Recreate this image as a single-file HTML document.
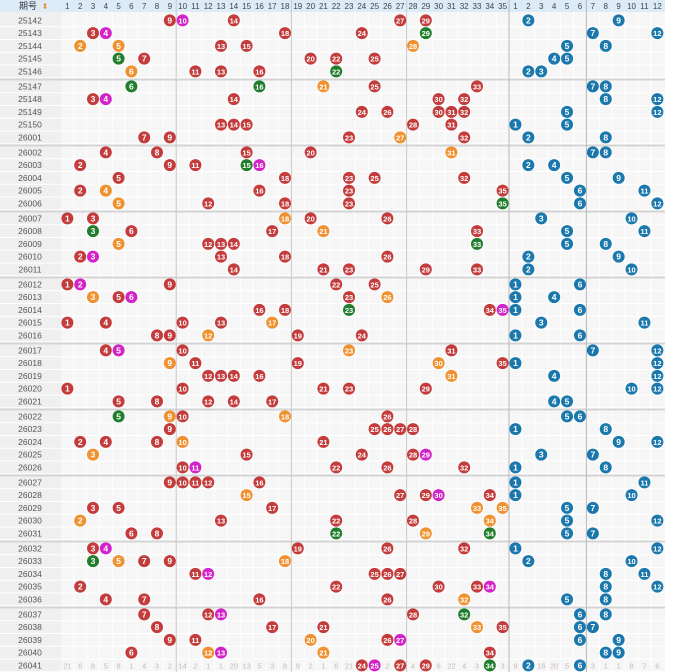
<!DOCTYPE html>
<html><head><meta charset="utf-8"><style>
html,body{margin:0;padding:0;background:#fff;}
svg{display:block;font-family:"Liberation Sans","Noto Sans CJK SC",sans-serif;}
</style></head><body>
<svg id="c" width="682" height="672" viewBox="0 0 682 672"></svg>
<script>
const periods=["25142","25143","25144","25145","25146","25147","25148","25149","25150","26001","26002","26003","26004","26005","26006","26007","26008","26009","26010","26011","26012","26013","26014","26015","26016","26017","26018","26019","26020","26021","26022","26023","26024","26025","26026","26027","26028","26029","26030","26031","26032","26033","26034","26035","26036","26037","26038","26039","26040","26041"];
// front balls: number + color code (r red, o orange, g green, m magenta)
const frontBalls=[
"9r 10m 14r 27r 29r","3r 4m 18r 24r 29g","2o 5o 13r 15r 28o","5g 7r 20r 22r 25r","6o 11r 13r 16r 22g",
"6g 16g 21o 25r 33r","3r 4m 14r 30r 32r","24r 26r 30r 31r 32r","13r 14r 15r 28r 31r","7r 9r 23r 27o 32r",
"4r 8r 15r 20r 31o","2r 9r 11r 15g 16m","5r 18r 23r 25r 32r","2r 4o 16r 23r 35r","5o 12r 18r 23r 35g",
"1r 3r 18o 20r 26r","3g 6r 17r 21o 33r","5o 12r 13r 14r 33g","2r 3m 13r 18r 26r","14r 21r 23r 29r 33r",
"1r 2m 9r 22r 25r","3o 5r 6m 23r 26o","16r 18r 23g 34r 35m","1r 4r 10r 13r 17o","8r 9r 12o 19r 24r",
"4r 5m 10r 23o 31r","9o 11r 19r 30o 35r","12r 13r 14r 16r 31o","1r 10r 21r 23r 29r","5r 8r 12r 14r 17r",
"5g 9o 10r 18o 26r","9r 25r 26r 27r 28r","2r 4r 8r 10o 21r","3o 15r 24r 28r 29m","10r 11m 22r 26r 32r",
"9r 10r 11r 12r 16r","15o 27r 29r 30m 34r","3r 5r 17r 33o 35o","2o 13r 22r 28r 34o","6r 8r 22g 29o 34g",
"3r 4m 19r 26r 32r","3g 5o 7r 9r 18o","11r 12m 25r 26r 27r","2r 22r 30r 33r 34m","4r 7r 16r 26r 32o",
"7r 12r 13m 28r 32g","8r 17r 21r 33o 35r","9r 11r 20o 26r 27m","6r 12o 13m 21o 34r","24r 25m 27r 29r 34g"];
const backBalls=[[2,9],[7,12],[5,8],[4,5],[2,3],[7,8],[8,12],[5,12],[1,5],[2,8],[7,8],[2,4],[5,9],[6,11],[6,12],[3,10],[5,11],[5,8],[2,9],[2,10],[1,6],[1,4],[1,6],[3,11],[1,6],[7,12],[1,12],[4,12],[10,12],[4,5],[5,6],[1,8],[9,12],[3,7],[1,8],[1,11],[1,10],[5,7],[5,12],[5,7],[1,12],[2,10],[8,11],[8,12],[5,8],[6,8],[6,7],[6,9],[8,9],[2,6]];
const lastMiss=[21,6,8,5,8,1,4,3,2,14,2,1,1,20,13,5,3,8,9,2,1,6,21,null,null,2,null,4,null,6,22,4,3,null,3];
const lastBackMiss=[9,null,16,20,5,null,3,1,1,8,7,6];

const NS="http://www.w3.org/2000/svg";
const svg=document.getElementById('c');
const COLORS={r:"#c33b3b",o:"#f0912f",g:"#1f7d2b",m:"#d323c8",b:"#1b78ad"};
const FX0=61,FW=12.8,BX0=509,BW=12.9,HEAD=12,RH=12.75,GH=66;
function fx(n){return FX0+FW*(n-0.5);}
function bx(n){return BX0+BW*(n-0.5);}
function rowTop(i){const g=Math.floor(i/5),r=i%5;return HEAD+g*GH+2+r*RH;}
function rowY(i){return rowTop(i)+RH/2;}
function mk(tag,attrs,parent){const e=document.createElementNS(NS,tag);for(const k in attrs)e.setAttribute(k,attrs[k]);(parent||svg).appendChild(e);return e;}

// backgrounds
mk('rect',{x:0,y:0,width:682,height:672,fill:'#ffffff'});
const hdr=mk('rect',{x:0,y:0,width:665,height:HEAD,fill:'#dcebf8'});


mk('rect',{x:0,y:HEAD,width:61,height:672-HEAD,fill:'#efefef'});
mk('rect',{x:61,y:HEAD,width:604,height:672-HEAD,fill:'#f6f6f6'});
// grid lines
for(let c=1;c<35;c++)mk('line',{x1:FX0+FW*c,y1:HEAD,x2:FX0+FW*c,y2:672,stroke:'#ffffff','stroke-width':1});
for(let c=1;c<12;c++)mk('line',{x1:BX0+BW*c,y1:HEAD,x2:BX0+BW*c,y2:672,stroke:'#ffffff','stroke-width':1});
for(let i=0;i<periods.length;i++){const y=rowTop(i)+RH;mk('line',{x1:0,y1:y,x2:665,y2:y,stroke:'#ffffff','stroke-width':1});}
for(let g=1;g<10;g++){const y=HEAD+g*GH+0.5;mk('rect',{x:0,y:y,width:665,height:2,fill:'#d4d4d4'});}
[FX0+FW*9,FX0+FW*18,FX0+FW*27,BX0,BX0+BW*6].forEach((x,k)=>mk('line',{x1:x,y1:0,x2:x,y2:672,stroke:(k==3||k==4)?'#b8b8b8':'#c8c8c8','stroke-width':1}));

// header labels
const ht=mk('text',{x:28,y:9,'font-size':9,fill:'#333','text-anchor':'middle'});ht.textContent='期号';


const sortI=mk('text',{x:45,y:9,'font-size':8,fill:'#f0912f','text-anchor':'middle'});sortI.textContent='⬍';


for(let c=1;c<=35;c++){const t=mk('text',{x:fx(c),y:9,'font-size':8,fill:'#444','text-anchor':'middle'});t.textContent=c;

}
for(let c=1;c<=12;c++){const t=mk('text',{x:bx(c),y:9,'font-size':8,fill:'#444','text-anchor':'middle'});t.textContent=c;

}

function ball(x,y,n,col,name){
  const g=mk('g',{});
  
  
  mk('circle',{cx:x,cy:y,r:6,fill:col},g);
  const t=mk('text',{x:x,y:y+3,'font-size':n>9?7.5:8.5,'font-weight':'bold',fill:'#fff','text-anchor':'middle'},g);
  t.textContent=n;
}
periods.forEach((p,i)=>{
  const y=rowY(i);
  const t=mk('text',{x:30,y:y+3,'font-size':8.5,fill:'#555','text-anchor':'middle'});t.textContent=p;
  
  
  frontBalls[i].split(' ').forEach(s=>{const n=parseInt(s),c=s.slice(-1);ball(fx(n),y,n,COLORS[c],'front-ball');});
  backBalls[i].forEach(n=>ball(bx(n),y,n,COLORS.b,'back-ball'));
});
const ly=rowY(periods.length-1)+3;
lastMiss.forEach((v,k)=>{if(v==null)return;const t=mk('text',{x:fx(k+1),y:ly,'font-size':7.5,fill:'#c9b8b8','text-anchor':'middle'});t.textContent=v;

});
lastBackMiss.forEach((v,k)=>{if(v==null)return;const t=mk('text',{x:bx(k+1),y:ly,'font-size':7.5,fill:'#c9b8b8','text-anchor':'middle'});t.textContent=v;

});
</script>
</body></html>
